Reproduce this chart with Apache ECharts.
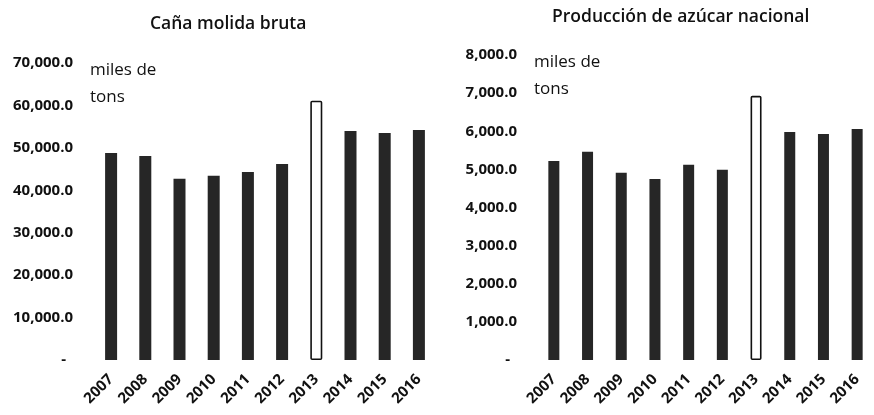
<!DOCTYPE html>
<html>
<head>
<meta charset="utf-8">
<script src="https://cdn.jsdelivr.net/npm/echarts@6/dist/echarts.min.js"></script>
<style>
html,body{margin:0;padding:0;background:#fff;}
#c{width:874px;height:415px;}
</style>
</head>
<body>
<div id="c"></div>
<script>
const years = ['2007','2008','2009','2010','2011','2012','2013','2014','2015','2016'];
const canaMolida = [48800, 48100, 42700, 43400, 44300, 46200, 61100, 54000, 53500, 54200];
const azucar = [5220, 5460, 4910, 4750, 5120, 4990, 6930, 5980, 5930, 6060];
const highlightYear = '2013';

const FONT = '"Open Sans", "Noto Sans", sans-serif';
const barColor = '#262626';

function fmt(v){
  if (v === 0) return '{d|-}';
  return v.toLocaleString('en-US',{minimumFractionDigits:1, maximumFractionDigits:1});
}
function mkData(arr){
  return arr.map((v,i)=> years[i]===highlightYear
    ? {value:v, itemStyle:{color:'#ffffff', borderColor:'#111', borderWidth:1.6, borderRadius:1}}
    : {value:v});
}
const yLab = {fontFamily:FONT, fontWeight:'bold', fontSize:15, color:'#111', margin:21,
  formatter: fmt, rich:{d:{fontFamily:FONT,fontWeight:'bold',fontSize:15,color:'#111',padding:[0,7,0,0]}}};
const xLab = {fontFamily:FONT, fontWeight:'bold', fontSize:15, color:'#111', rotate:45, margin:17, interval:0};

const chart = echarts.init(document.getElementById('c'));
chart.setOption({
  animation:false,
  backgroundColor:'#fff',
  title:[
    {text:'Caña molida bruta', left:145, top:10,
     textStyle:{fontFamily:FONT, fontWeight:600, fontSize:17.5, color:'#111'}},
    {text:'Producción de azúcar nacional', left:547, top:3,
     textStyle:{fontFamily:FONT, fontWeight:600, fontSize:17.5, color:'#111'}}
  ],
  graphic:[
    {type:'text', left:90, top:62, style:{text:'miles de', font:'17px '+FONT, fill:'#111'}},
    {type:'text', left:90, top:89, style:{text:'tons', font:'17px '+FONT, fill:'#111'}},
    {type:'text', left:534, top:54, style:{text:'miles de', font:'17px '+FONT, fill:'#111'}},
    {type:'text', left:534, top:81, style:{text:'tons', font:'17px '+FONT, fill:'#111'}}
  ],
  grid:[
    {left:94, top:63, width:342, height:297},
    {left:537, top:55, width:353, height:305}
  ],
  xAxis:[
    {type:'category', gridIndex:0, data:years, axisLine:{show:false}, axisTick:{show:false}, axisLabel:xLab},
    {type:'category', gridIndex:1, data:years, axisLine:{show:false}, axisTick:{show:false}, axisLabel:xLab}
  ],
  yAxis:[
    {type:'value', gridIndex:0, min:0, max:70000, interval:10000, splitLine:{show:false}, axisLine:{show:false}, axisTick:{show:false}, axisLabel:yLab},
    {type:'value', gridIndex:1, min:0, max:8000, interval:1000, splitLine:{show:false}, axisLine:{show:false}, axisTick:{show:false}, axisLabel:Object.assign({}, yLab, {margin:20})}
  ],
  series:[
    {type:'bar', xAxisIndex:0, yAxisIndex:0, data:mkData(canaMolida), barWidth:12, itemStyle:{color:barColor}},
    {type:'bar', xAxisIndex:1, yAxisIndex:1, data:mkData(azucar), barWidth:11, itemStyle:{color:barColor}}
  ]
});
</script>
</body>
</html>
